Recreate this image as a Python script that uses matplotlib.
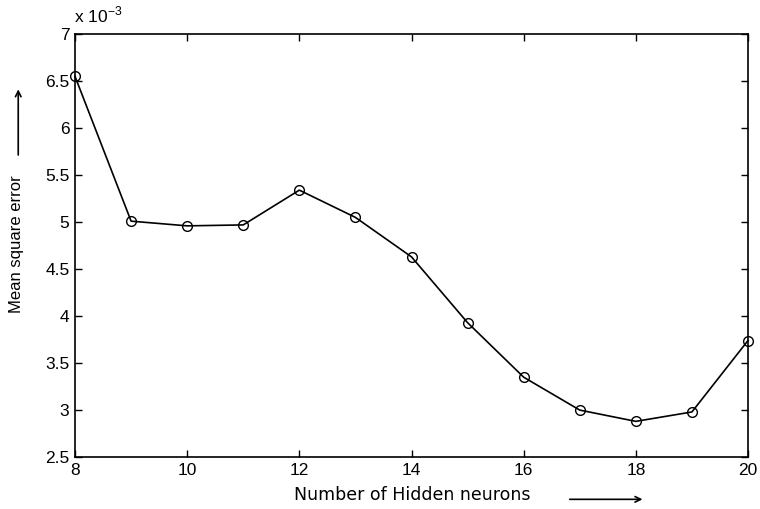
import matplotlib.pyplot as plt
from matplotlib.patches import FancyArrowPatch
import numpy as np

# hidden neurons vs. mean square error (x 1e-3)
neurons = [8, 9, 10, 11, 12, 13, 14, 15, 16, 17, 18, 19, 20]
mse = [6.55, 5.01, 4.96, 4.97, 5.34, 5.05, 4.63, 3.93, 3.35, 3.00, 2.88, 2.98, 3.74]
mse_scaled = np.array(mse) * 1e-3

x_ticks = [8, 10, 12, 14, 16, 18, 20]
y_ticks = [2.5, 3, 3.5, 4, 4.5, 5, 5.5, 6, 6.5, 7]
y_tick_labels = ['2.5', '3', '3.5', '4', '4.5', '5', '5.5', '6', '6.5', '7']

plt.rcParams['font.family'] = ['Liberation Sans', 'DejaVu Sans']

fig = plt.figure(figsize=(7.6, 5.09), dpi=100)
ax = fig.add_axes([0.0987, 0.102, 0.8855, 0.831])

ax.plot(neurons, mse_scaled, color='black', linewidth=1.2,
        marker='o', markersize=7, markerfacecolor='none', markeredgecolor='black',
        markeredgewidth=1.0, clip_on=False)

ax.set_xlim(8, 20)
ax.set_ylim(2.5e-3, 7e-3)
ax.set_xticks(x_ticks)
ax.set_yticks(np.array(y_ticks) * 1e-3)
ax.set_yticklabels(y_tick_labels)
ax.tick_params(direction='in', top=True, right=True, length=5, width=1,
               labelsize=12.5, pad=4)
for s in ax.spines.values():
    s.set_linewidth(1.2)

# exponent label in the top left corner
fig.text(0.098, 0.95, r'x 10$^{\mathregular{-3}}$', fontsize=12.5, ha='left', va='bottom')

# axis labels with arrows
fig.text(0.543, 0.027, 'Number of Hidden neurons', fontsize=12.5, ha='center', va='center',
         family='DejaVu Sans')
fig.text(0.022, 0.52, 'Mean square error', fontsize=12, ha='center', va='center',
         rotation=90)
fig.patches.append(FancyArrowPatch(
    (0.746, 0.019), (0.849, 0.019), transform=fig.transFigure,
    arrowstyle='->', mutation_scale=10, linewidth=1.2, color='black'))
fig.patches.append(FancyArrowPatch(
    (0.024, 0.69), (0.024, 0.83), transform=fig.transFigure,
    arrowstyle='->', mutation_scale=10, linewidth=1.2, color='black'))

fig.savefig('out.png', dpi=100)
